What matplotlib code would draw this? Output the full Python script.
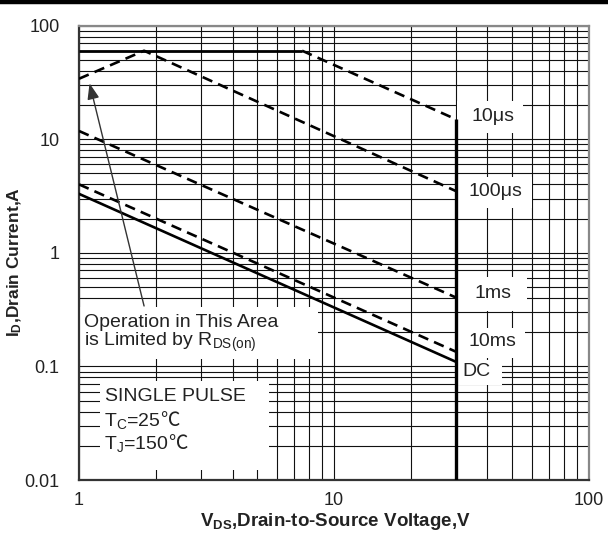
import matplotlib
matplotlib.use('Agg')
import matplotlib.pyplot as plt
from matplotlib.patches import Rectangle
from matplotlib.lines import Line2D
from matplotlib.ticker import NullFormatter, LogLocator, FixedLocator

plt.rcParams['font.family'] = ['Liberation Sans', 'Noto Sans CJK SC', 'DejaVu Sans']
plt.rcParams['mathtext.fontset'] = 'custom'
plt.rcParams['mathtext.rm'] = 'Liberation Sans'
plt.rcParams['mathtext.bf'] = 'Liberation Sans:bold'
plt.rcParams['mathtext.default'] = 'regular'

# safe operating area curves (V_DS in V, I_D in A)
vds_pkg = [1, 7.5]
id_pkg = [60, 60]
vds_10us = [7.5, 30]
id_10us = [60, 15]
vds_100us = [1, 1.8, 30]
id_100us = [34, 60, 3.5]
vds_1ms = [1, 30]
id_1ms = [11.8, 0.405]
vds_10ms = [1, 30]
id_10ms = [4.0, 0.135]
vds_dc = [1, 30]
id_dc = [3.3, 0.11]
vds_max = [30, 30]
id_max = [15, 0.01]

x_ticks = [1, 10, 100]
x_tick_labels = ['1', '10', '100']
y_ticks = [0.01, 0.1, 1, 10, 100]
y_tick_labels = ['0.01', '0.1', '1', '10', '100']

fig = plt.figure(figsize=(6.08, 5.35), dpi=100)
ax = fig.add_axes([0.1299, 0.1028, 0.8388, 0.8495])
ax.set_xscale('log')
ax.set_yscale('log')
ax.set_xlim(1, 100)
ax.set_ylim(0.01, 100)

ax.xaxis.set_major_locator(FixedLocator(x_ticks))
ax.set_xticklabels(x_tick_labels)
ax.yaxis.set_major_locator(FixedLocator(y_ticks))
ax.set_yticklabels(y_tick_labels)
ax.xaxis.set_minor_locator(LogLocator(base=10, subs=range(2, 10)))
ax.yaxis.set_minor_locator(LogLocator(base=10, subs=range(2, 10)))
ax.xaxis.set_minor_formatter(NullFormatter())
ax.yaxis.set_minor_formatter(NullFormatter())
ax.tick_params(which='both', length=0)
ax.tick_params(axis='x', pad=8.5, labelsize=13, colors='#222')
ax.tick_params(axis='y', pad=14, labelsize=13, colors='#222')

ax.set_axisbelow(True)
ax.grid(True, which='both', color='#111', lw=0.8)
for side in ['left', 'bottom']:
    ax.spines[side].set_color('#333')
    ax.spines[side].set_linewidth(1.6)
for side in ['top', 'right']:
    ax.spines[side].set_color('#888')
    ax.spines[side].set_linewidth(1.6)

# white boxes behind the notes (hide the grid)
boxes = [
    (1.0, 0.116, 8.65, 0.335),
    (1.21, 0.0122, 5.56, 0.0743),
    (30.4, 11.3, 55, 21.7),
    (30.4, 2.48, 60, 4.65),
    (30.4, 0.308, 57, 0.612),
    (30.4, 0.1186, 56, 0.218),
    (30.4, 0.0685, 45.6, 0.1137),
]
for x0, y0, x1, y1 in boxes:
    ax.add_patch(Rectangle((x0, y0), x1 - x0, y1 - y0, facecolor='white',
                           edgecolor='none', zorder=1.5))

dash = (0, (4, 2.4))
ax.plot(vds_pkg, id_pkg, color='black', lw=2.0, zorder=3, solid_capstyle='butt')
ax.plot(vds_10us, id_10us, color='black', lw=1.9, ls=dash, zorder=3)
ax.plot(vds_100us, id_100us, color='black', lw=1.9, ls=dash, zorder=3)
ax.plot(vds_1ms, id_1ms, color='black', lw=1.9, ls=dash, zorder=3)
ax.plot(vds_10ms, id_10ms, color='black', lw=1.9, ls=dash, zorder=3)
ax.plot(vds_dc, id_dc, color='black', lw=1.9, zorder=3)
ax.plot(vds_max, id_max, color='black', lw=2.4, zorder=3.5, solid_capstyle='butt')

fs = 14
ax.text(42, 15.7, '10μs', fontsize=fs, ha='center', va='center', color='#222', zorder=4)
ax.text(43, 3.43, '100μs', fontsize=fs, ha='center', va='center', color='#222', zorder=4)
ax.text(42, 0.434, '1ms', fontsize=fs, ha='center', va='center', color='#222', zorder=4)
ax.text(42, 0.164, '10ms', fontsize=fs, ha='center', va='center', color='#222', zorder=4)
ax.text(32.0, 0.0894, 'DC', fontsize=fs, ha='left', va='center', color='#222', zorder=4)

ax.text(1.046, 0.241, 'Operation in This Area', fontsize=fs, ha='left', va='center',
        color='#222', zorder=4)
ax.text(1.046, 0.161, r'is Limited by R$_{DS(on)}$', fontsize=fs, ha='left', va='center',
        color='#222', zorder=4)
ax.text(1.265, 0.0538, 'SINGLE PULSE', fontsize=fs, ha='left', va='center',
        color='#222', zorder=4)

# temperature lines: subscript via mathtext, degree sign as plain text
for y, base in [(0.0299, r'T$_C$=25'), (0.0188, r'T$_J$=150')]:
    t = ax.text(1.25, y, base, fontsize=fs, ha='left', va='baseline', color='#222', zorder=4)
    ax.annotate('℃', xy=(1, 0), xycoords=t, fontsize=fs, ha='left', va='bottom',
                family=['Noto Sans CJK SC', 'DejaVu Sans'], color='#222', zorder=4,
                annotation_clip=False)

ax.annotate('', xy=(1.10, 31), xytext=(1.80, 0.34),
            arrowprops=dict(arrowstyle='-|>,head_length=0.8,head_width=0.3',
                            mutation_scale=12, color='#333', lw=1.0,
                            shrinkA=0, shrinkB=0), zorder=5)

fig.text(15 / 608, 1 - 262 / 535, r'I$_D$,Drain Current,A', rotation=90,
         fontsize=12.5, fontweight='bold', ha='center', va='center', color='#222')
fig.text(335 / 608, 1 - 522 / 535, r'V$_{DS}$,Drain-to-Source Voltage,V',
         fontsize=13.5, fontweight='bold', ha='center', va='center', color='#222')

fig.add_artist(Line2D([0, 1], [1 - 2.2 / 535, 1 - 2.2 / 535], transform=fig.transFigure,
                      color='black', lw=3.2))

fig.savefig('out.png', dpi=100)
